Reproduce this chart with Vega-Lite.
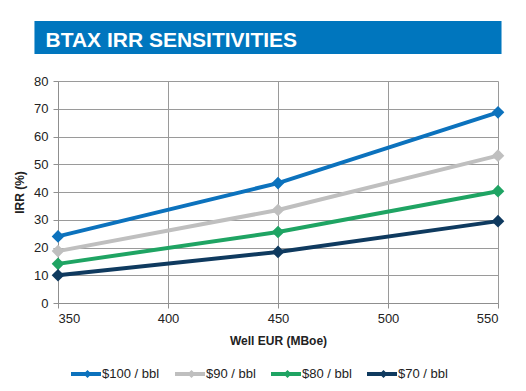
{
  "$schema": "https://vega.github.io/schema/vega-lite/v6.json",
  "background": "white",
  "padding": {"left": 13, "top": 21, "right": 5, "bottom": 5},
  "spacing": 21,
  "config": {
    "font": "Liberation Sans",
    "view": {"stroke": null},
    "axis": {
      "labelFont": "Liberation Sans", "labelFontSize": 13, "labelColor": "#222222",
      "titleFont": "Liberation Sans", "titleFontSize": 12, "titleFontWeight": "bold", "titleColor": "#222222",
      "gridColor": "#9a9a9a", "domainColor": "#8f8f8f", "tickColor": "#8f8f8f", "tickSize": 5
    }
  },
  "resolve": {"scale": {"x": "independent", "y": "independent"}},
  "vconcat": [
    {
      "width": 440,
      "height": 33,
      "data": {"values": [{"title": "BTAX IRR SENSITIVITIES"}]},
      "layer": [
        {
          "mark": {"type": "rect", "color": "#0076BE", "clip": false},
          "encoding": {
            "x": {"datum": 339.3, "type": "quantitative", "scale": {"domain": [350, 550], "nice": false, "zero": false}, "axis": null},
            "x2": {"datum": 551.6},
            "y": {"datum": 0, "type": "quantitative", "scale": {"domain": [0, 1], "nice": false}, "axis": null},
            "y2": {"datum": 1}
          }
        },
        {
          "mark": {"type": "text", "align": "left", "baseline": "alphabetic", "font": "Liberation Sans", "fontWeight": "bold", "fontSize": 21, "color": "white"},
          "encoding": {
            "text": {"field": "title"},
            "x": {"datum": 344.3, "type": "quantitative"},
            "y": {"datum": 0.22, "type": "quantitative"}
          }
        }
      ]
    },
    {
      "width": 440,
      "height": 222,
      "data": {"values": [
        {"eur": 350, "irr": 24.0, "price": "$100 / bbl"},
        {"eur": 450, "irr": 43.2, "price": "$100 / bbl"},
        {"eur": 550, "irr": 68.7, "price": "$100 / bbl"},
        {"eur": 350, "irr": 18.7, "price": "$90 / bbl"},
        {"eur": 450, "irr": 33.5, "price": "$90 / bbl"},
        {"eur": 550, "irr": 53.1, "price": "$90 / bbl"},
        {"eur": 350, "irr": 14.1, "price": "$80 / bbl"},
        {"eur": 450, "irr": 25.6, "price": "$80 / bbl"},
        {"eur": 550, "irr": 40.3, "price": "$80 / bbl"},
        {"eur": 350, "irr": 10.0, "price": "$70 / bbl"},
        {"eur": 450, "irr": 18.4, "price": "$70 / bbl"},
        {"eur": 550, "irr": 29.5, "price": "$70 / bbl"}
      ]},
      "encoding": {
        "x": {"field": "eur", "type": "quantitative", "title": "Well EUR (MBoe)",
              "scale": {"domain": [350, 550], "nice": false, "zero": false},
              "axis": {"values": [350, 400, 450, 500, 550], "grid": true, "labelPadding": 4, "titlePadding": 10}},
        "y": {"field": "irr", "type": "quantitative", "title": "IRR (%)",
              "scale": {"domain": [0, 80], "nice": false},
              "axis": {"values": [0, 10, 20, 30, 40, 50, 60, 70, 80], "grid": true, "labelPadding": 5, "titlePadding": 7}},
        "color": {"field": "price", "type": "nominal",
                  "scale": {"domain": ["$100 / bbl", "$90 / bbl", "$80 / bbl", "$70 / bbl"], "range": ["#0C72BD", "#BFBFBF", "#1FA463", "#0F3A5F"]},
                  "legend": {
                    "orient": "bottom", "direction": "horizontal", "title": null,
                    "symbolType": "M-1,-0.13L1,-0.13L1,0.13L-1,0.13Z M0.1,-0.27L0.37,0L0.1,0.27L-0.17,0Z",
                    "symbolSize": 900, "symbolStrokeWidth": 0, "symbolOpacity": 1,
                    "labelFont": "Liberation Sans", "labelFontSize": 13, "labelColor": "#222222",
                    "labelOffset": 1, "columnPadding": 15, "padding": 13, "offset": 0,
                    "encode": {"symbols": {"update": {"fill": {"scale": "color", "field": "value"}, "opacity": {"value": 1}}}}
                  }}
      },
      "layer": [
        {"mark": {"type": "line", "strokeWidth": 4}},
        {"mark": {"type": "point", "shape": "diamond", "filled": true, "size": 160, "opacity": 1}}
      ]
    }
  ]
}
